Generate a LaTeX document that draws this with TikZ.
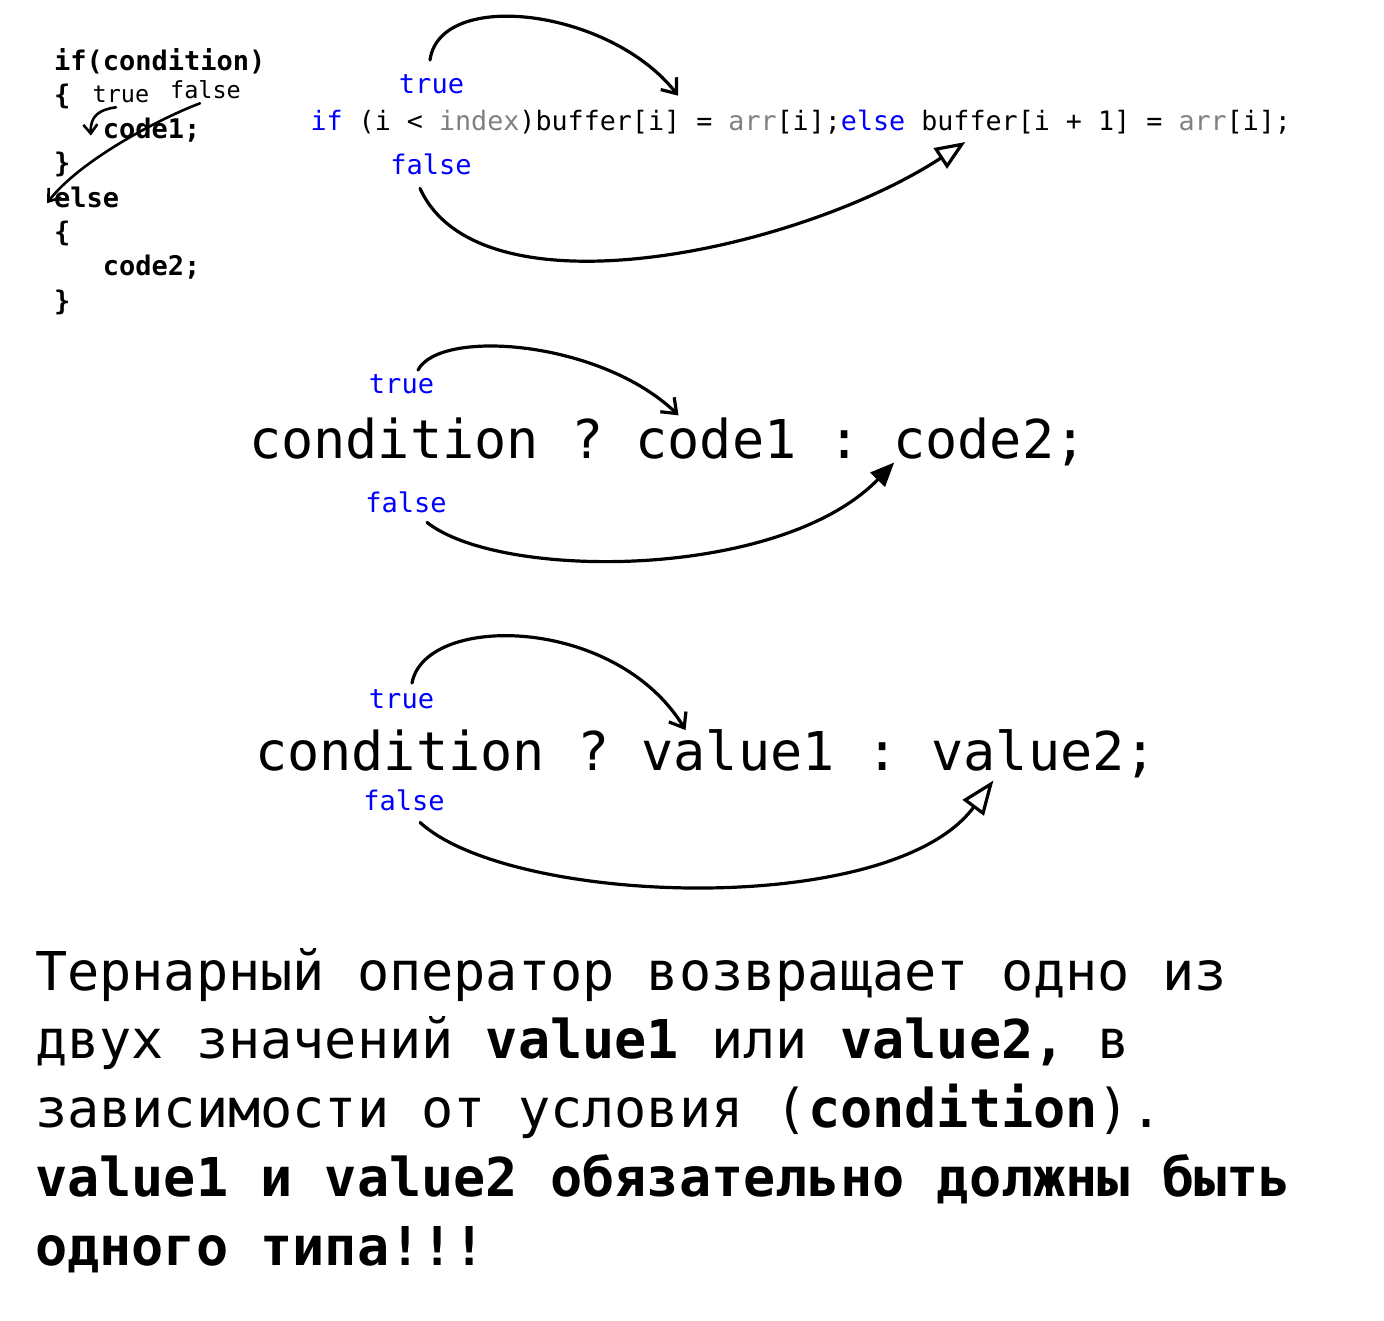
\documentclass[tikz,border=0pt]{standalone}
\usepackage{fontspec}
\setmonofont{DejaVu Sans Mono}
\usepackage{tikz}
\usetikzlibrary{positioning,calc,arrows.meta}
\definecolor{kwblue}{RGB}{0,0,255}
\definecolor{idgray}{RGB}{128,128,128}
\tikzstyle{code} = [inner sep=0pt, outer sep=0pt, anchor=base west,
    font=\ttfamily\fontsize{26.7}{32}\selectfont]
\tikzstyle{block} = [code, font=\ttfamily\bfseries\fontsize{27}{32}\selectfont]
\tikzstyle{big} = [code, font=\ttfamily\fontsize{53.5}{64}\selectfont]
\tikzstyle{para} = [big]
\tikzstyle{branch} = [inner sep=0pt, outer sep=0pt, anchor=base, text=kwblue,
    font=\ttfamily\fontsize{27}{32}\selectfont]
\tikzstyle{smallbranch} = [branch, text=black, font=\ttfamily\fontsize{23.5}{28}\selectfont]
\tikzstyle{hand} = [draw, line width=3.2pt, line cap=round, line join=round]
\tikzstyle{yesline} = [hand, -{Straight Barb[length=13pt,width=20pt]}]
\tikzstyle{noline} = [hand, -{Triangle[open,length=30pt,width=24pt]}]

\begin{document}
\begin{tikzpicture}[x=1pt,y=-1pt]
    \useasboundingbox (0,0) rectangle (1384,1320);
    % Place nodes
    % if / else block
    \node[block] (lif) at (54,70) {if(condition)};
    \node[block, below=34.3pt of lif.base west, anchor=base west] (lbr1) {\{};
    \node[block, below=34.3pt of lbr1.base west, anchor=base west, xshift=48.9pt] (lcode1) {code1;};
    \node[block, below=68.6pt of lbr1.base west, anchor=base west] (lbr2) {\}};
    \node[block, below=34.3pt of lbr2.base west, anchor=base west] (lelse) {else};
    \node[block, below=34.3pt of lelse.base west, anchor=base west] (lbr3) {\{};
    \node[block, below=34.3pt of lbr3.base west, anchor=base west, xshift=48.9pt] (lcode2) {code2;};
    \node[block, below=68.6pt of lbr3.base west, anchor=base west] (lbr4) {\}};
    \node[smallbranch] (ltrue) at (121,102) {true};
    \node[smallbranch] (lfalse) at (205.5,98) {false};
    % one line if / else
    \node[code, text=kwblue] (t1) at (310.5,130) {if};
    \node[code, base right=16.07pt of t1] (t2) {(i <};
    \node[code, text=idgray, base right=16.07pt of t2] (t3) {index};
    \node[code, base right=0pt of t3] (t4) {)buffer[i]};
    \node[code, base right=16.07pt of t4] (t5) {=};
    \node[code, text=idgray, base right=16.07pt of t5] (t6) {arr};
    \node[code, base right=0pt of t6] (t7) {[i];};
    \node[code, text=kwblue, base right=0pt of t7] (t8) {else};
    \node[code, base right=16.07pt of t8] (t9) {buffer[i + 1]};
    \node[code, base right=16.07pt of t9] (t10) {=};
    \node[code, text=idgray, base right=16.07pt of t10] (t11) {arr};
    \node[code, base right=0pt of t11] (t12) {[i];};
    \node[branch] (ttrue) at (431.5,93) {true};
    \node[branch] (tfalse) at (431,174) {false};
    % ternary with code
    \node[big] (m1) at (249,458) {condition};
    \node[big, base right=32.21pt of m1] (m2) {?};
    \node[big, base right=32.21pt of m2] (m3) {code1};
    \node[big, base right=32.21pt of m3] (m4) {:};
    \node[big, base right=32.21pt of m4] (m5) {code2;};
    \node[branch] (mtrue) at (401.5,393) {true};
    \node[branch] (mfalse) at (406,512) {false};
    % ternary with values
    \node[big] (b1) at (255,770) {condition};
    \node[big, base right=32.21pt of b1] (b2) {?};
    \node[big, base right=32.21pt of b2] (b3) {value1};
    \node[big, base right=32.21pt of b3] (b4) {:};
    \node[big, base right=32.21pt of b4] (b5) {value2;};
    \node[branch] (btrue) at (401.5,708) {true};
    \node[branch] (bfalse) at (404,810) {false};
    % text
    \node[para] (p1) at (35,990) {Тернарный оператор возвращает одно из};
    \node[para, below=68.75pt of p1.base west, anchor=base west] (p2) {двух значений {\bfseries value1} или {\bfseries value2,} в};
    \node[para, below=68.75pt of p2.base west, anchor=base west] (p3) {зависимости от условия ({\bfseries condition}).};
    \node[para, below=68.75pt of p3.base west, anchor=base west, font=\ttfamily\bfseries\fontsize{53.5}{64}\selectfont] (p4) {value1 и value2 обязательно должны быть};
    \node[para, below=68.75pt of p4.base west, anchor=base west, font=\ttfamily\bfseries\fontsize{53.5}{64}\selectfont] (p5) {одного типа!!!};
    % Draw edges
    \path[yesline, line width=2.6pt, -{Straight Barb[length=9pt,width=14pt]}] ($(ltrue.south)+(-5,5)$) .. controls +(-16,2) and +(-1,-20) .. ($(lcode1.base west)+(-12,-3)$);
    \path[yesline, line width=2.6pt, -{Straight Barb[length=11pt,width=16pt]}] ($(lfalse.south)+(-5.5,5)$) .. controls +(-40,15) and +(33,-43) .. ($(lelse.base west)+(-7,-4)$);
    \path[yesline] ($(ttrue.north)+(-1.5,-14)$) .. controls +(10,-72) and +(-68,-87) .. ($(t4.north east)+(-2,-14)$);
    \path[noline] ($(tfalse.south)+(-11,14)$) .. controls +(60,132) and +(-165,108) .. ($(t9.south west)+(44,8.5)$);
    \path[yesline] ($(mtrue.north)+(16.5,-4)$) .. controls +(22,-42) and +(-78,-75) .. ($(m3.north west)+(43,-2)$);
    \path[hand, -{Triangle[length=24pt,width=20pt]}] ($(mfalse.south)+(21,10)$) .. controls +(73,58) and +(-114,118) .. ($(m5.south west)+(1,-3)$);
    \path[yesline] ($(btrue.north)+(10.5,-6)$) .. controls +(13,-70) and +(-70,-115) .. ($(b3.north west)+(44,1)$);
    \path[noline, -{Triangle[open,length=34pt,width=26pt]}] ($(bfalse.south)+(16,12)$) .. controls +(90,83) and +(-103,139) .. ($(b5.south west)+(62,3)$);
\end{tikzpicture}
\end{document}
